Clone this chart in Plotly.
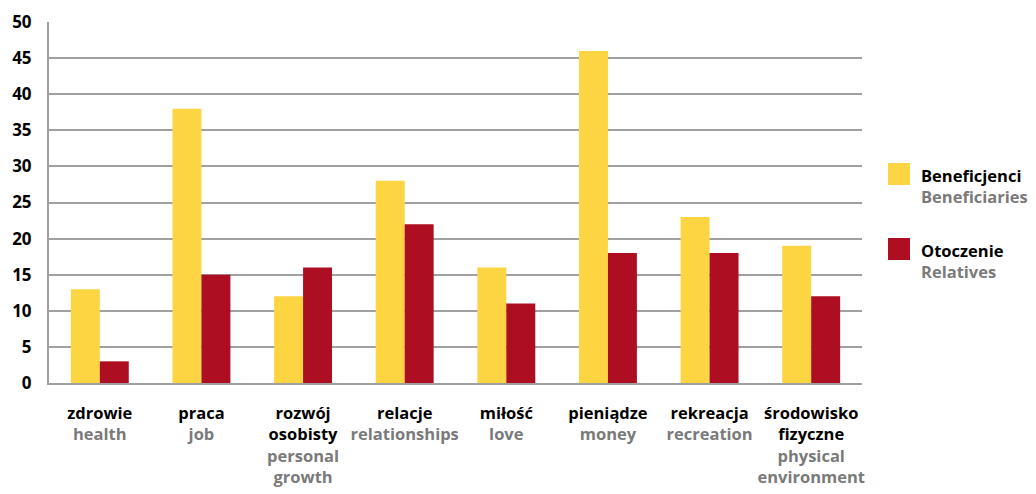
import plotly.graph_objects as go

# Category labels: Polish name with English translation underneath
categories_pl = ["zdrowie", "praca", "rozwój<br>osobisty", "relacje", "miłość",
                 "pieniądze", "rekreacja", "środowisko<br>fizyczne"]
categories_en = ["health", "job", "personal<br>growth", "relationships", "love",
                 "money", "recreation", "physical<br>environment"]

beneficjenci = [13, 38, 12, 28, 16, 46, 23, 19]
otoczenie = [3, 15, 16, 22, 11, 18, 18, 12]

series_pl = ["Beneficjenci", "Otoczenie"]
series_en = ["Beneficiaries", "Relatives"]
colors = ["#FDD441", "#AE0E22"]

y_ticks = list(range(0, 51, 5))

FONT = "Open Sans"
GRAY = "#7a7a7a"


def tick_label(pl, en):
    en_lines = en.split("<br>")
    en_html = "<br>".join(f"<span style='color:{GRAY}'>{l}</span>" for l in en_lines)
    return f"<b>{pl}</b><br><b>{en_html}</b>"


ticktext = [tick_label(p, e) for p, e in zip(categories_pl, categories_en)]
x = list(range(len(categories_pl)))

fig = go.Figure()
for name, vals, col in zip(series_pl, [beneficjenci, otoczenie], colors):
    fig.add_trace(go.Bar(x=x, y=vals, name=name, marker=dict(color=col, line=dict(width=0)),
                         showlegend=False))

fig.update_layout(
    width=1036, height=494,
    margin=dict(l=49, r=174, t=22, b=111),
    paper_bgcolor="white", plot_bgcolor="white",
    barmode="group", bargap=0.43, bargroupgap=0,
    font=dict(family=FONT, color="black", size=16),
)
fig.update_xaxes(
    tickmode="array", tickvals=x, ticktext=ticktext, range=[-0.5, 7.5],
    showline=True, linecolor="#A0A0A0", linewidth=2, ticks="",
    tickfont=dict(family=FONT, size=16.5, color="black"),
    showgrid=False, ticklabelstandoff=14, automargin=False,
)
fig.update_yaxes(
    range=[0, 50], tickvals=y_ticks, ticktext=[f"<b>{v}</b>" for v in y_ticks],
    showline=True, linecolor="#A0A0A0", linewidth=2,
    gridcolor="#A0A0A0", gridwidth=1.5, zeroline=False,
    tickfont=dict(family=FONT, size=17, color="black"), ticks="", ticklabelstandoff=12,
    automargin=False,
)

# Legend drawn beside the plot: colour square, Polish name, English name
legend_tops = [163, 238]
for top, pl, en, col in zip(legend_tops, series_pl, series_en, colors):
    fig.add_shape(type="rect", xref="paper", yref="paper",
                  x0=(888 - 49) / 813, x1=(910 - 49) / 813,
                  y0=1 - (top + 22 - 22) / 361, y1=1 - (top - 22) / 361,
                  fillcolor=col, line=dict(width=0))
    fig.add_annotation(xref="paper", yref="paper", x=(919 - 49) / 813,
                       y=1 - (top - 22 - 1) / 361, xanchor="left", yanchor="top",
                       text=f"<b>{pl}</b><br><b><span style='color:{GRAY}'>{en}</span></b>",
                       align="left", showarrow=False,
                       font=dict(family=FONT, size=16.5, color="black"))

fig.write_html("out.html")
